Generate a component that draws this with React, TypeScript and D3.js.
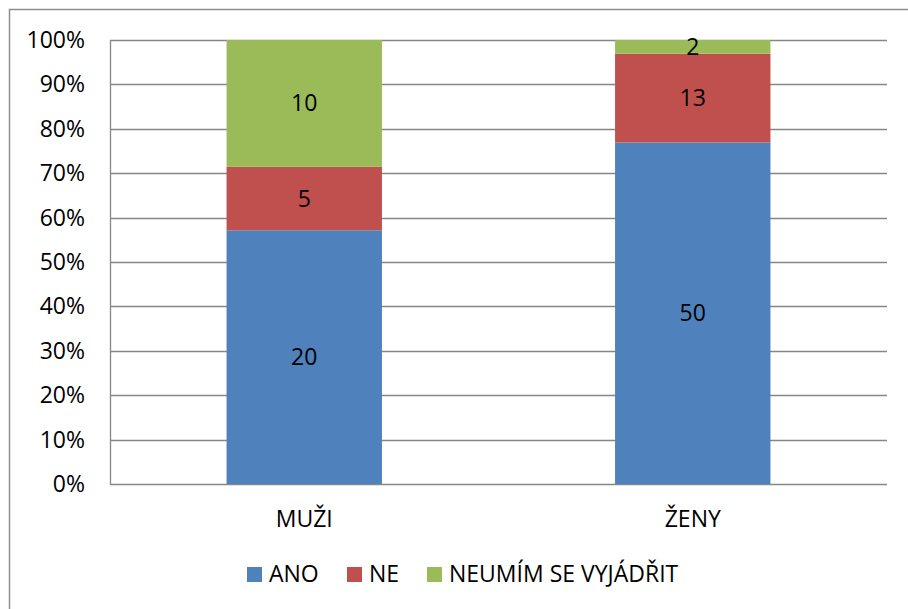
import React, { useEffect, useRef } from 'react';
import * as d3 from 'd3';

const categories = ['MUŽI', 'ŽENY'];
const seriesNames = ['ANO', 'NE', 'NEUMÍM SE VYJÁDŘIT'];
const ano = [20, 50];
const ne = [5, 13];
const neumim = [10, 2];
const colors = ['#4F81BD', '#C0504D', '#9BBB59'];
const yTicks = [0, 0.1, 0.2, 0.3, 0.4, 0.5, 0.6, 0.7, 0.8, 0.9, 1];

const FONT = '"Open Sans", "Liberation Sans", sans-serif';

export default function App() {
  const svgRef = useRef<SVGSVGElement | null>(null);

  useEffect(() => {
    document.body.style.margin = '0';
    if (!svgRef.current) return;
    const width = 908;
    const height = 609;
    const plot = { left: 110, top: 40, right: 887, bottom: 484 };

    const svg = d3.select(svgRef.current);
    svg.selectAll('*').remove();
    svg.attr('width', width).attr('height', height);

    svg.append('rect').attr('width', width).attr('height', height).attr('fill', '#fff');

    // outer frame (runs off the right and bottom edges)
    svg.append('rect')
      .attr('x', 9.5).attr('y', 9.5)
      .attr('width', 1000).attr('height', 800)
      .attr('fill', 'none').attr('stroke', '#8f8f8f').attr('stroke-width', 1.5);

    const x = d3.scaleBand<string>()
      .domain(categories)
      .range([plot.left, plot.right])
      .paddingInner(0.6)
      .paddingOuter(0.3);
    const y = d3.scaleLinear().domain([0, 1]).range([plot.bottom, plot.top]);

    // gridlines
    svg.append('g').selectAll('line')
      .data(yTicks)
      .join('line')
      .attr('x1', plot.left).attr('x2', plot.right)
      .attr('y1', d => Math.round(y(d)) + 0.5).attr('y2', d => Math.round(y(d)) + 0.5)
      .attr('stroke', '#868686').attr('stroke-width', 1.3);

    // y axis
    svg.append('line')
      .attr('x1', plot.left + 0.5).attr('x2', plot.left + 0.5)
      .attr('y1', plot.top).attr('y2', plot.bottom + 1)
      .attr('stroke', '#868686').attr('stroke-width', 1.3);

    svg.append('g').selectAll('text')
      .data(yTicks)
      .join('text')
      .attr('x', plot.left - 25)
      .attr('y', d => y(d) + 8)
      .attr('text-anchor', 'end')
      .style('font-family', FONT).style('font-size', '23px').attr('fill', '#000')
      .text(d => d3.format('.0%')(d));

    // stacked data
    const rows = categories.map((c, i) => {
      const vals = [ano[i], ne[i], neumim[i]];
      const total = d3.sum(vals);
      return { cat: c, vals, total };
    });

    rows.forEach(r => {
      let acc = 0;
      r.vals.forEach((v, k) => {
        const y0 = acc / r.total;
        acc += v;
        const y1 = acc / r.total;
        svg.append('rect')
          .attr('x', x(r.cat)!)
          .attr('width', x.bandwidth())
          .attr('y', y(y1))
          .attr('height', y(y0) - y(y1))
          .attr('fill', colors[k]);
        svg.append('text')
          .attr('x', x(r.cat)! + x.bandwidth() / 2)
          .attr('y', (y(y0) + y(y1)) / 2 + 8)
          .attr('text-anchor', 'middle')
          .style('font-family', FONT).style('font-size', '23px').attr('fill', '#000')
          .text(v);
      });
    });

    // category labels
    svg.append('g').selectAll('text')
      .data(categories)
      .join('text')
      .attr('x', d => x(d)! + x.bandwidth() / 2)
      .attr('y', 527)
      .attr('text-anchor', 'middle')
      .style('font-family', FONT).style('font-size', '23px').attr('fill', '#000')
      .text(d => d);

    // legend
    const legendX = [247, 347, 427];
    seriesNames.forEach((name, k) => {
      svg.append('rect')
        .attr('x', legendX[k]).attr('y', 567)
        .attr('width', 15).attr('height', 15)
        .attr('fill', colors[k]);
      svg.append('text')
        .attr('x', legendX[k] + 22).attr('y', 582)
        .style('font-family', FONT).style('font-size', '23px').attr('fill', '#000')
        .text(name);
    });
  }, []);

  return <svg ref={svgRef} style={{ display: 'block' }} />;
}
